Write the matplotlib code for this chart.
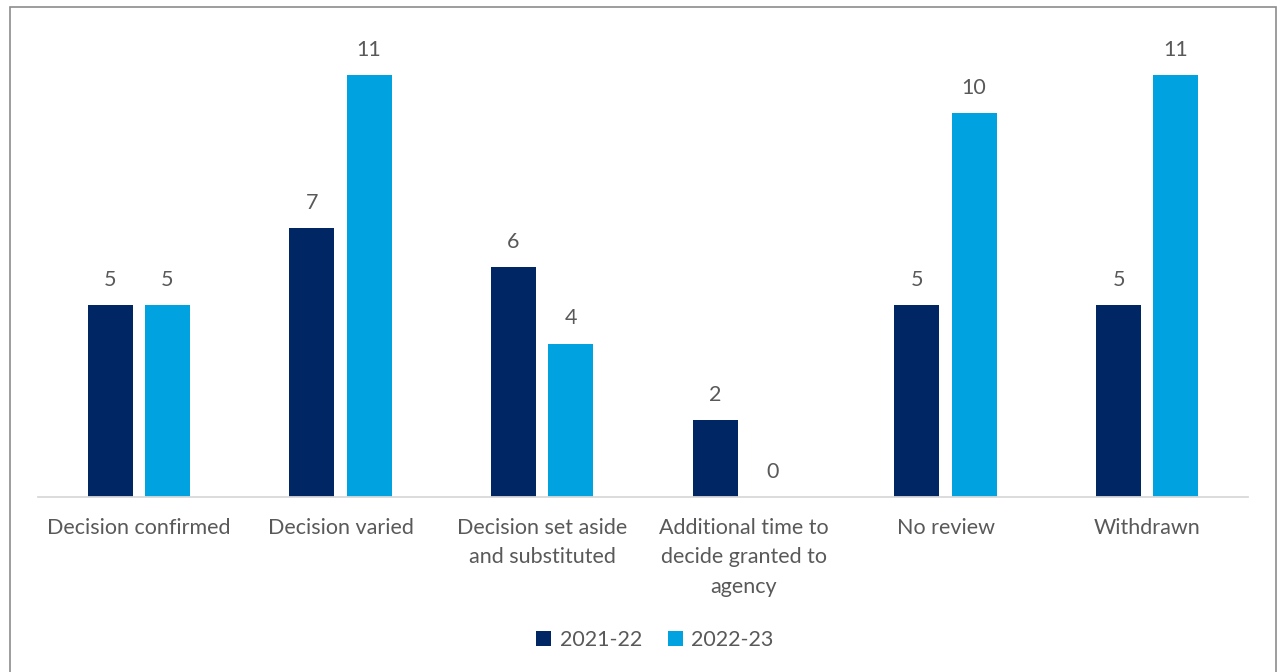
import numpy as np
import matplotlib.pyplot as plt
from matplotlib.patches import Rectangle

# chart data
categories = ['Decision confirmed', 'Decision varied', 'Decision set aside\nand substituted',
              'Additional time to\ndecide granted to\nagency', 'No review', 'Withdrawn']
values_2122 = [5, 7, 6, 2, 5, 5]
values_2223 = [5, 11, 4, 0, 10, 11]
series_names = ['2021-22', '2022-23']

dark = '#002664'
light = '#00a3e0'
text_col = '#595959'
fs = 15.5

plt.rcParams['font.family'] = ['Lato', 'DejaVu Sans']

fig = plt.figure(figsize=(12.79, 6.72), dpi=100)
ax = fig.add_axes([0.0297, 0.2604, 0.9461, 0.685])

x = np.arange(len(categories))
w = 0.223
b1 = ax.bar(x - 0.142, values_2122, w, color=dark, label=series_names[0])
b2 = ax.bar(x + 0.142, values_2223, w, color=light, label=series_names[1])

for bars, vals in [(b1, values_2122), (b2, values_2223)]:
    for r, v in zip(bars, vals):
        ax.annotate(str(v), (r.get_x() + r.get_width() / 2, v), xytext=(0, 11),
                    textcoords='offset points', ha='center', va='bottom',
                    fontsize=fs, color=text_col)

ax.set_xlim(-0.5, len(categories) - 0.5)
ax.set_ylim(0, 12)
ax.set_yticks([])
ax.set_xticks(x)
ax.set_xticklabels(categories, fontsize=fs, color=text_col, linespacing=1.6)
ax.tick_params(axis='x', length=0, pad=15)
for s in ['top', 'right', 'left']:
    ax.spines[s].set_visible(False)
ax.spines['bottom'].set_color('#d9d9d9')
ax.spines['bottom'].set_linewidth(1.3)

leg = fig.legend(handles=[b1, b2], loc='center', bbox_to_anchor=(0.512, 0.047), ncol=2,
                 frameon=False, fontsize=fs, handlelength=0.7, handleheight=0.7,
                 columnspacing=1.2, handletextpad=0.4)
for t in leg.get_texts():
    t.set_color(text_col)

# outer chart border
fig.patches.append(Rectangle((0.008, -0.01), 0.9895, 0.9995, transform=fig.transFigure,
                             fill=False, edgecolor='#8c8c8c', linewidth=1.2))

fig.savefig('out.png', dpi=100)
